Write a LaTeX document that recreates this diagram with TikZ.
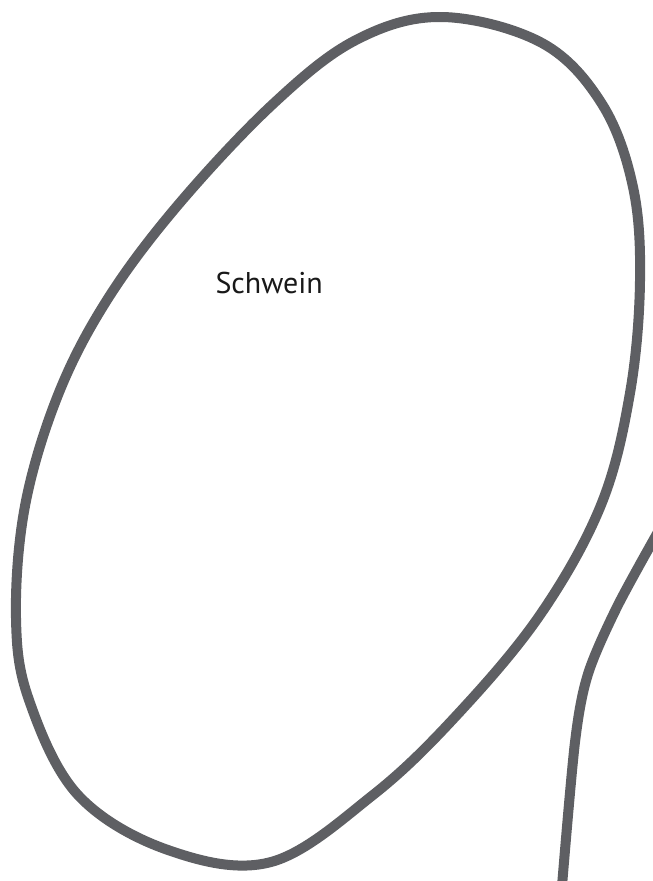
\documentclass[tikz,border=0pt]{standalone}
\usepackage{fontspec}
\setsansfont{PT Sans}
\definecolor{penGray}{HTML}{5E5F63}
\begin{document}
\begin{tikzpicture}[x=1pt,y=-1pt,
    outline/.style={draw=penGray, line width=10pt, line cap=round, line join=round},
    nametext/.style={font=\sffamily\fontsize{30}{36}\selectfont, text=black!90}]
    \useasboundingbox (0,0) rectangle (653,881);
    \draw[outline] plot[smooth cycle, tension=0.6] coordinates {
        (442,17) (542,43) (602,104) (633,187) (640,281) (630,393)
        (601,505) (540,615) (456,716) (373,795) (271,862) (168,850)
        (78,795) (29,700) (16,618) (25,506) (58,395) (107,300)
        (178,205) (273,104) (356,40)};
    \draw[outline] plot[smooth] coordinates {
        (658,532) (617,607) (588,674) (575,742) (562,886)};
    \node[nametext, anchor=base west] (schwein) at (212,293) {Schwein};
\end{tikzpicture}
\end{document}
